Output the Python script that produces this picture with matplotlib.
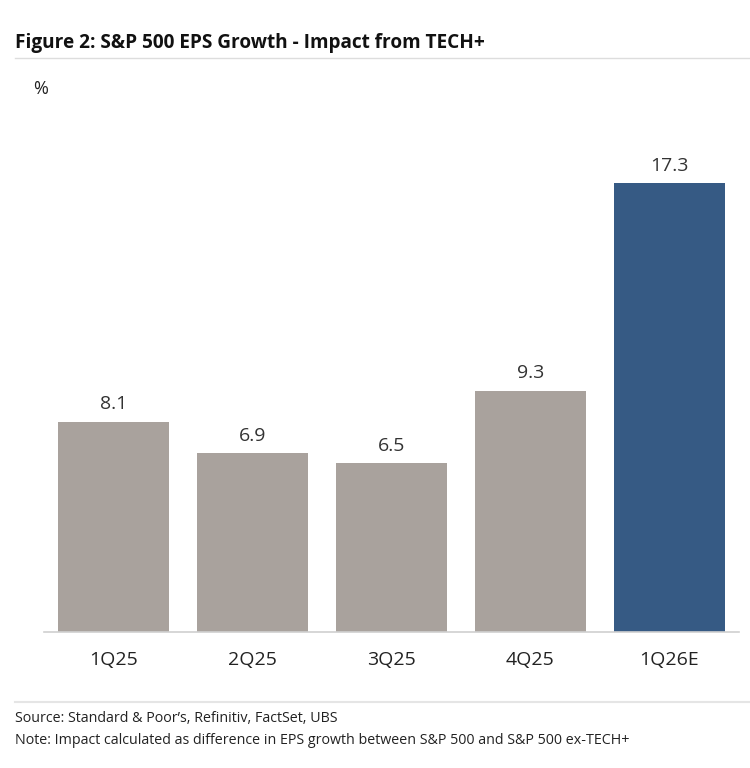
import matplotlib
matplotlib.use("Agg")
import matplotlib.pyplot as plt
from matplotlib.lines import Line2D

quarters = ["1Q25", "2Q25", "3Q25", "4Q25", "1Q26E"]
eps_impact = [8.1, 6.9, 6.5, 9.3, 17.3]
bar_colors = ["#A9A29D", "#A9A29D", "#A9A29D", "#A9A29D", "#365A84"]

title = "Figure 2: S&P 500 EPS Growth - Impact from TECH+"
source = "Source: Standard & Poor\u2019s, Refinitiv, FactSet, UBS"
note = "Note: Impact calculated as difference in EPS growth between S&P 500 and S&P 500 ex-TECH+"

plt.rcParams["font.family"] = ["Open Sans", "DejaVu Sans"]

W, H = 750, 768
fig = plt.figure(figsize=(W / 100, H / 100), dpi=100)

# axes: x 44..739 px, y baseline 632, top 113
ax = fig.add_axes([44 / W, 1 - 632 / H, (739 - 44) / W, (632 - 113) / H])
x = range(len(quarters))
bars = ax.bar(x, eps_impact, width=0.8, color=bar_colors)
for b, v in zip(bars, eps_impact):
    ax.annotate(f"{v:.1f}", (b.get_x() + b.get_width() / 2, v),
                xytext=(0, 6), textcoords="offset points",
                ha="center", va="bottom", fontsize=14, color="#333333")

ax.set_xlim(-0.5, len(quarters) - 0.5)
ax.set_ylim(0, 20)
ax.set_yticks([])
ax.set_xticks(list(x))
ax.set_xticklabels(quarters, fontsize=14, color="#222222")
ax.tick_params(axis="x", length=0, pad=14)
for s in ["top", "right", "left"]:
    ax.spines[s].set_visible(False)
ax.spines["bottom"].set_color("#D0D0D0")
ax.spines["bottom"].set_linewidth(1.2)

fig.text(15 / W, 1 - 43 / H, title, fontsize=13.7, fontweight="bold",
         va="center", ha="left", color="#111111")
fig.add_artist(Line2D([15 / W, 1], [1 - 58 / H] * 2, color="#DDDDDD", lw=1.0))
fig.text(33 / W, 1 - 89 / H, "%", fontsize=13, va="center", ha="left", color="#222222")

fig.add_artist(Line2D([15 / W, 1], [1 - 702 / H] * 2, color="#E5E5E5", lw=1.5))
fig.text(15 / W, 1 - 718 / H, source, fontsize=10.3, va="center", ha="left", color="#222222")
fig.text(15 / W, 1 - 740 / H, note, fontsize=10.3, va="center", ha="left", color="#222222")

fig.savefig("out.png", dpi=100)
